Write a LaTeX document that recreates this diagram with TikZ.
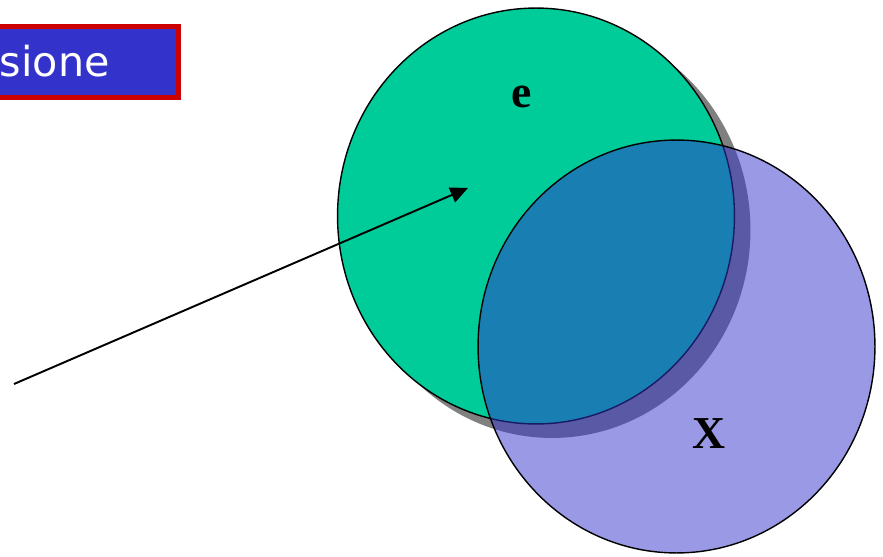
\documentclass[tikz,border=0pt]{standalone}
\usepackage{fontspec}
\setmainfont{Liberation Serif}
\newfontfamily\bannerfont{DejaVu Sans}
\usetikzlibrary{shapes.geometric,shadows,arrows.meta}
\definecolor{setgreen}{HTML}{00CC99}
\definecolor{setblue}{HTML}{3333CC}
\definecolor{bannerred}{HTML}{CC0000}
\definecolor{shadowgray}{HTML}{808080}
\begin{document}
\begin{tikzpicture}[x=0.02cm, y=-0.02cm]
\useasboundingbox (0,0) rectangle (883,557);
\node[draw=bannerred, fill=setblue, line width=2.8pt, anchor=north east, minimum width=6cm, minimum height=1.42cm, inner sep=0] (banner) at (180.5,24.5){};
\node[text=white, anchor=base east, inner sep=0, font=\bannerfont\fontsize{23.5}{28}\selectfont] (bannertext) at (110,77){sione};
\node[ellipse, draw, line width=0.8pt, fill=setgreen, minimum width=7.94cm, minimum height=8.32cm, drop shadow={shadow xshift=0.32cm, shadow yshift=-0.28cm, fill=shadowgray, opacity=1}] (setE) at (536,216){};
\node[ellipse, draw, line width=0.8pt, fill=setblue, fill opacity=0.5, draw opacity=1, minimum width=7.94cm, minimum height=8.26cm] (setX) at (676.5,346.5){};
\node[font=\bfseries\fontsize{26}{30}\selectfont] (labelE) at (522,97){e};
\node[font=\bfseries\fontsize{26}{30}\selectfont] (labelX) at (709,434){X};
\coordinate (from) at (14,384);
\coordinate (to) at (468,188);
\draw[line width=1.1pt, -{Triangle[length=10pt, width=9pt]}] (from) -- (to);

\end{tikzpicture}
\end{document}
